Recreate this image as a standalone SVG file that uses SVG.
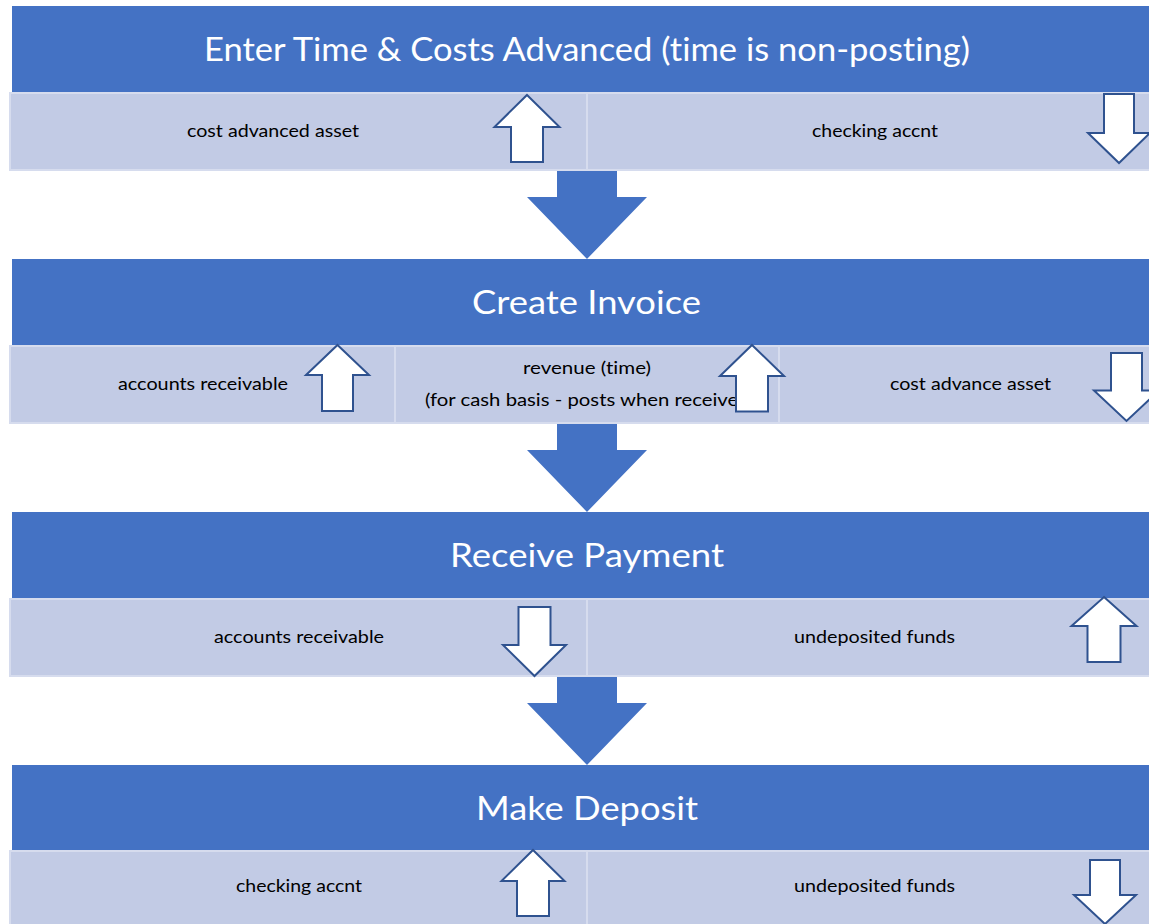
<svg xmlns="http://www.w3.org/2000/svg" width="1149" height="924" viewBox="0 0 1149 924">
  <style>
    .hdr { fill: #4472C4; }
    .cell { fill: #C2CBE5; stroke: #D6DCEE; stroke-width: 2; }
    .htxt { font-family: Lato, "Open Sans", "Liberation Sans", sans-serif; font-size: 33px; fill: #FFFFFF; font-variant-ligatures: none; }
    .btxt { font-family: Lato, "Open Sans", "Liberation Sans", sans-serif; font-size: 18px; fill: #000000; font-variant-ligatures: none; }
    .post { fill: #FFFFFF; stroke: #2F528F; stroke-width: 2; stroke-linejoin: miter; }
    .flow { fill: #4472C4; }
  </style>
  <rect x="0" y="0" width="1149" height="924" fill="#FFFFFF"/>

  <!-- Step 1 -->
  <g id="step-enter-time">
    <rect class="hdr" x="12" y="6" width="1150" height="86"/>
    <text class="htxt" x="204" y="61" textLength="766" lengthAdjust="spacingAndGlyphs">Enter Time &amp; Costs Advanced (time is non-posting)</text>
    <rect class="cell" x="10" y="93" width="577" height="77"/>
    <rect class="cell" x="587" y="93" width="576" height="77"/>
    <text class="btxt" x="187" y="137" textLength="172" lengthAdjust="spacingAndGlyphs">cost advanced asset</text>
    <text class="btxt" x="812" y="137" textLength="126" lengthAdjust="spacingAndGlyphs">checking accnt</text>
    <polygon class="post" points="527,95 559.5,127 543,127 543,162 511,162 511,127 494.5,127"/>
    <polygon class="post" points="1104,94 1134,94 1134,133 1150,133 1119,163 1088,133 1104,133"/>
  </g>

  <!-- Step 2 -->
  <g id="step-create-invoice">
    <rect class="hdr" x="12" y="259" width="1150" height="86"/>
    <text class="htxt" x="472" y="314" textLength="229" lengthAdjust="spacingAndGlyphs">Create Invoice</text>
    <rect class="cell" x="10" y="346" width="385" height="77"/>
    <rect class="cell" x="395" y="346" width="384" height="77"/>
    <rect class="cell" x="779" y="346" width="384" height="77"/>
    <text class="btxt" x="118" y="390" textLength="170" lengthAdjust="spacingAndGlyphs">accounts receivable</text>
    <text class="btxt" x="523" y="374" textLength="128" lengthAdjust="spacingAndGlyphs">revenue (time)</text>
    <text class="btxt" x="425" y="406" textLength="330" lengthAdjust="spacingAndGlyphs">(for cash basis - posts when received)</text>
    <text class="btxt" x="890" y="390" textLength="161" lengthAdjust="spacingAndGlyphs">cost advance asset</text>
    <polygon class="post" points="337.5,345 369,375 353,375 353,411 322,411 322,375 306,375"/>
    <polygon class="post" points="752,345 784,376 768,376 768,411.5 736,411.5 736,376 720,376"/>
    <polygon class="post" points="1111,353 1142,353 1142,390.5 1159,390.5 1126.5,421 1094,390.5 1111,390.5"/>
  </g>

  <!-- Step 3 -->
  <g id="step-receive-payment">
    <rect class="hdr" x="12" y="512" width="1150" height="86"/>
    <text class="htxt" x="450" y="567" textLength="274" lengthAdjust="spacingAndGlyphs">Receive Payment</text>
    <rect class="cell" x="10" y="599" width="577" height="77"/>
    <rect class="cell" x="587" y="599" width="576" height="77"/>
    <text class="btxt" x="214" y="643" textLength="170" lengthAdjust="spacingAndGlyphs">accounts receivable</text>
    <text class="btxt" x="794" y="643" textLength="161" lengthAdjust="spacingAndGlyphs">undeposited funds</text>
    <polygon class="post" points="518.5,607 550.5,607 550.5,645 566,645 534.5,676 503,645 518.5,645"/>
    <polygon class="post" points="1104,597 1136.5,626 1120.5,626 1120.5,662 1087.5,662 1087.5,626 1071.5,626"/>
  </g>

  <!-- Step 4 -->
  <g id="step-make-deposit">
    <rect class="hdr" x="12" y="765" width="1150" height="85"/>
    <text class="htxt" x="476" y="820" textLength="222" lengthAdjust="spacingAndGlyphs">Make Deposit</text>
    <rect class="cell" x="10" y="851" width="577" height="80"/>
    <rect class="cell" x="587" y="851" width="576" height="80"/>
    <text class="btxt" x="236" y="892" textLength="126" lengthAdjust="spacingAndGlyphs">checking accnt</text>
    <text class="btxt" x="794" y="892" textLength="161" lengthAdjust="spacingAndGlyphs">undeposited funds</text>
    <polygon class="post" points="533,850 564.5,881 549,881 549,916 517,916 517,881 501.5,881"/>
    <polygon class="post" points="1090,860 1120,860 1120,895 1136,895 1105,924 1074,895 1090,895"/>
  </g>

  <!-- Flow between steps -->
  <g id="connectors">
    <polygon class="flow" points="557,171 617,171 617,197 647,197 587,259 527,197 557,197"/>
    <polygon class="flow" points="557,424 617,424 617,450 647,450 587,512 527,450 557,450"/>
    <polygon class="flow" points="557,677 617,677 617,703 647,703 587,765 527,703 557,703"/>
  </g>
</svg>
